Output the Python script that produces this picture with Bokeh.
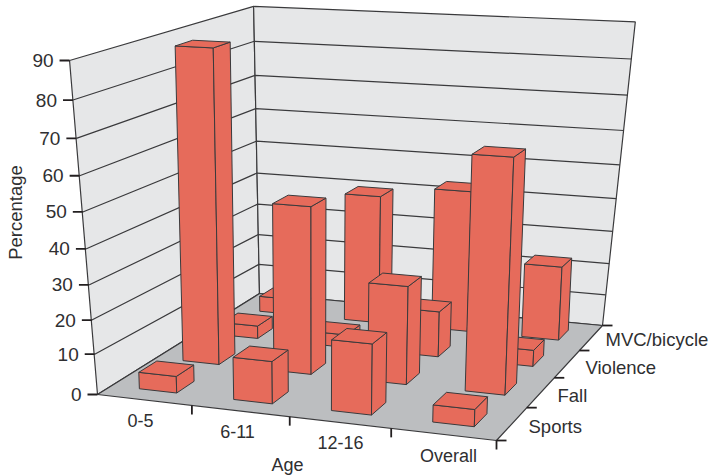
import numpy as np
from bokeh.plotting import figure
from bokeh.models import Range1d
from bokeh.core.properties import value
from bokeh.embed import file_html
from bokeh.resources import INLINE

ages = ["0-5", "6-11", "12-16", "Overall"]
causes = ["Sports", "Fall", "Violence", "MVC/bicycle"]
sports = [5, 12.5, 20.5, 5]
fall = [89, 49, 29, 66]
violence = [4, 4, 14, 5]
mvc = [5, 40, 43.5, 23]
pct_ticks = [0, 10, 20, 30, 40, 50, 60, 70, 80, 90]

WALL = "#e6e7e8"
FLOOR = "#bcbec0"
BAR = "#e66b5b"
INK = "#3a3a3c"
TEXT = "#2f2f31"
FONT = value("Liberation Sans")

# Camera: floor corners and wall tops in page pixels
floor_world = [(0, 0), (4, 0), (4, 4), (0, 4)]
floor_page = [(97, 394), (496, 440), (602, 325), (259, 293)]
top_world = [(0, 0), (0, 4), (4, 4)]
top_page = [(69, 58), (253, 7), (635, 22)]

A, b = [], []
for (X, Y), (u, v) in zip(floor_world, floor_page):
    A.append([X, Y, 1, 0, 0, 0, -u * X, -u * Y]); b.append(u)
    A.append([0, 0, 0, X, Y, 1, -v * X, -v * Y]); b.append(v)
h = np.linalg.solve(np.array(A, float), np.array(b, float))
H = np.array([h[0:3], h[3:6], [h[6], h[7], 1.0]])

A, b = [], []
for (X, Y), (u, v) in zip(top_world, top_page):
    a = H @ np.array([X, Y, 1.0])
    Z = 90.0
    A.append([Z, 0, -u * Z]); b.append(u * a[2] - a[0])
    A.append([0, Z, -v * Z]); b.append(v * a[2] - a[1])
p3 = np.linalg.lstsq(np.array(A), np.array(b), rcond=None)[0]


def proj(X, Y, Z=0.0):
    q = H @ np.array([X, Y, 1.0]) + Z * p3
    return q[0] / q[2], q[1] / q[2]


def poly(pts):
    xy = [proj(*pt) for pt in pts]
    return [c[0] for c in xy], [c[1] for c in xy]


# Bars stand straighter than the walls: only part of the sideways lean is kept
BAR_LEAN = 0.5


def bar_poly(pts):
    xs, ys = [], []
    for X, Y, Z in pts:
        x_base, _ = proj(X, Y, 0)
        x_full, y_full = proj(X, Y, Z)
        xs.append(x_base + BAR_LEAN * (x_full - x_base))
        ys.append(y_full)
    return xs, ys


# The front edge of the percentage scale sits a little above the plain projection
def front_lift(t):
    return 0.0 if t == 0 else float(np.interp(t, [10, 50, 90], [7, 7, 0]))


p = figure(width=712, height=476, output_backend="svg", toolbar_location=None,
           x_range=Range1d(0, 712), y_range=Range1d(476, 0), min_border=0,
           x_axis_location=None, y_axis_location=None, outline_line_color=None,
           background_fill_color="white", border_fill_color="white")
p.grid.visible = False

# Walls and floor
xs, ys = poly([(0, 0, 0), (0, 4, 0), (0, 4, 90), (0, 0, 90)])
p.patch(xs, ys, fill_color=WALL, line_color=INK, line_width=1.2)
xs, ys = poly([(0, 4, 0), (4, 4, 0), (4, 4, 90), (0, 4, 90)])
p.patch(xs, ys, fill_color=WALL, line_color=INK, line_width=1.2)
xs, ys = poly([(0, 0, 0), (4, 0, 0), (4, 4, 0), (0, 4, 0)])
p.patch(xs, ys, fill_color=FLOOR, line_color=INK, line_width=1.2)

# Gridlines across both walls
for t in pct_ticks[1:-1]:
    xs, ys = poly([(0, 0, t), (0, 4, t), (4, 4, t)])
    ys[0] -= front_lift(t)
    p.line(xs, ys, line_color=INK, line_width=1.2)

# Percentage axis ticks and labels
for t in pct_ticks:
    x, y = proj(0, 0, t)
    y -= front_lift(t)
    p.line([x - 10, x], [y, y], line_color="#231f20", line_width=1.8)
    p.text([x - 16], [y], text=[str(t)], text_font=FONT, text_font_size="19px",
           text_align="right", text_baseline="middle", text_color=TEXT)

# Age ticks and category labels along the front edge
for i in range(1, 5):
    x, y = proj(i, 0, 0)
    p.line([x, x], [y, y + 9], line_color="#231f20", line_width=1.8)
age_label_x = [140, 237, 340, 448]
age_label_y = [420, 431, 442, 455]
for name, x, y in zip(ages, age_label_x, age_label_y):
    p.text([x], [y], text=[name], text_font=FONT, text_font_size="18px",
           text_align="center", text_baseline="middle", text_color=TEXT)

# Cause ticks and labels along the right edge
for j in range(0, 5):
    x, y = proj(4, j, 0)
    p.line([x, x + 10], [y, y], line_color="#231f20", line_width=1.8)
cause_label_x = [528, 557, 585, 605]
cause_label_y = [426, 395, 367, 339]
for name, x, y in zip(causes, cause_label_x, cause_label_y):
    p.text([x], [y], text=[name], text_font=FONT, text_font_size="18.5px",
           text_align="left", text_baseline="middle", text_color=TEXT)

p.text([287], [464], text=["Age"], text_font=FONT, text_font_size="18px",
       text_align="center", text_baseline="middle", text_color=TEXT)
p.text([15], [212], text=["Percentage"], text_font=FONT, text_font_size="18.5px",
       text_align="center", text_baseline="middle", text_color=TEXT, angle=np.pi / 2)

# Bars, painted from the back row forward and left to right
rows = [sports, fall, violence, mvc]
gap = 0.3
for j in reversed(range(4)):
    for i in range(4):
        val = rows[j][i]
        x0, x1 = i + gap, i + 1 - gap
        y0, y1 = j + gap, j + 1 - gap
        faces = [
            [(x0, y0, 0), (x1, y0, 0), (x1, y0, val), (x0, y0, val)],
            [(x1, y0, 0), (x1, y1, 0), (x1, y1, val), (x1, y0, val)],
            [(x0, y0, val), (x1, y0, val), (x1, y1, val), (x0, y1, val)],
        ]
        for f in faces:
            xs, ys = bar_poly(f)
            p.patch(xs, ys, fill_color=BAR, line_color=INK, line_width=1)

open("out.html", "w").write(file_html(p, INLINE))
